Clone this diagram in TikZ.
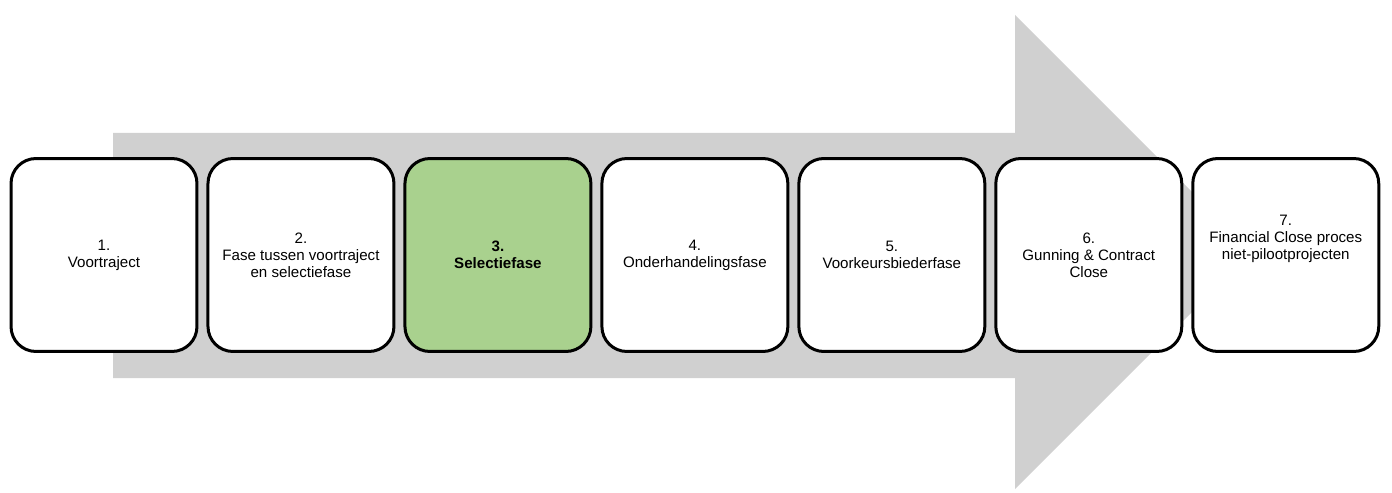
\documentclass[tikz,border=0pt]{standalone}
\usepackage{fontspec}
\setmainfont{Liberation Sans}
\usetikzlibrary{positioning}
\definecolor{arrowgray}{RGB}{208,208,208}
\definecolor{phasegreen}{RGB}{169,209,142}
\tikzset{
  phase/.style={
    draw=black,
    fill=white,
    line width=0.06cm,
    rounded corners=0.5cm,
    minimum width=3.72cm,
    minimum height=3.86cm,
    align=center,
    font=\fontsize{8.6}{9.6}\selectfont
  },
  current/.style={
    fill=phasegreen,
    font=\fontsize{8.6}{9.6}\selectfont\bfseries
  }
}

\begin{document}
\begin{tikzpicture}[x=0.02cm, y=-0.02cm, node distance=0.16cm]
  \useasboundingbox (0,0) rectangle (1392,493);
  % big background arrow
  \fill[arrowgray] (113,133) -- (1015,133) -- (1015,15) -- (1252,252)
    -- (1015,489) -- (1015,378) -- (113,378) -- cycle;
  \node[phase] (p1) at (104,255) {1.\\Voortraject};
  \node[phase, right=of p1] (p2) {2.\\Fase tussen voortraject\\en selectiefase};
  \node[phase, current, right=of p2] (p3) {3.\\Selectiefase};
  \node[phase, right=of p3] (p4) {4.\\Onderhandelingsfase};
  \node[phase, right=of p4] (p5) {5.\\Voorkeursbiederfase};
  \node[phase, right=of p5] (p6) {6.\\Gunning \& Contract\\Close};
  \node[phase, right=of p6] (p7) {7.\\Financial Close proces\\niet-pilootprojecten\\[1.2em]};
\end{tikzpicture}
\end{document}
